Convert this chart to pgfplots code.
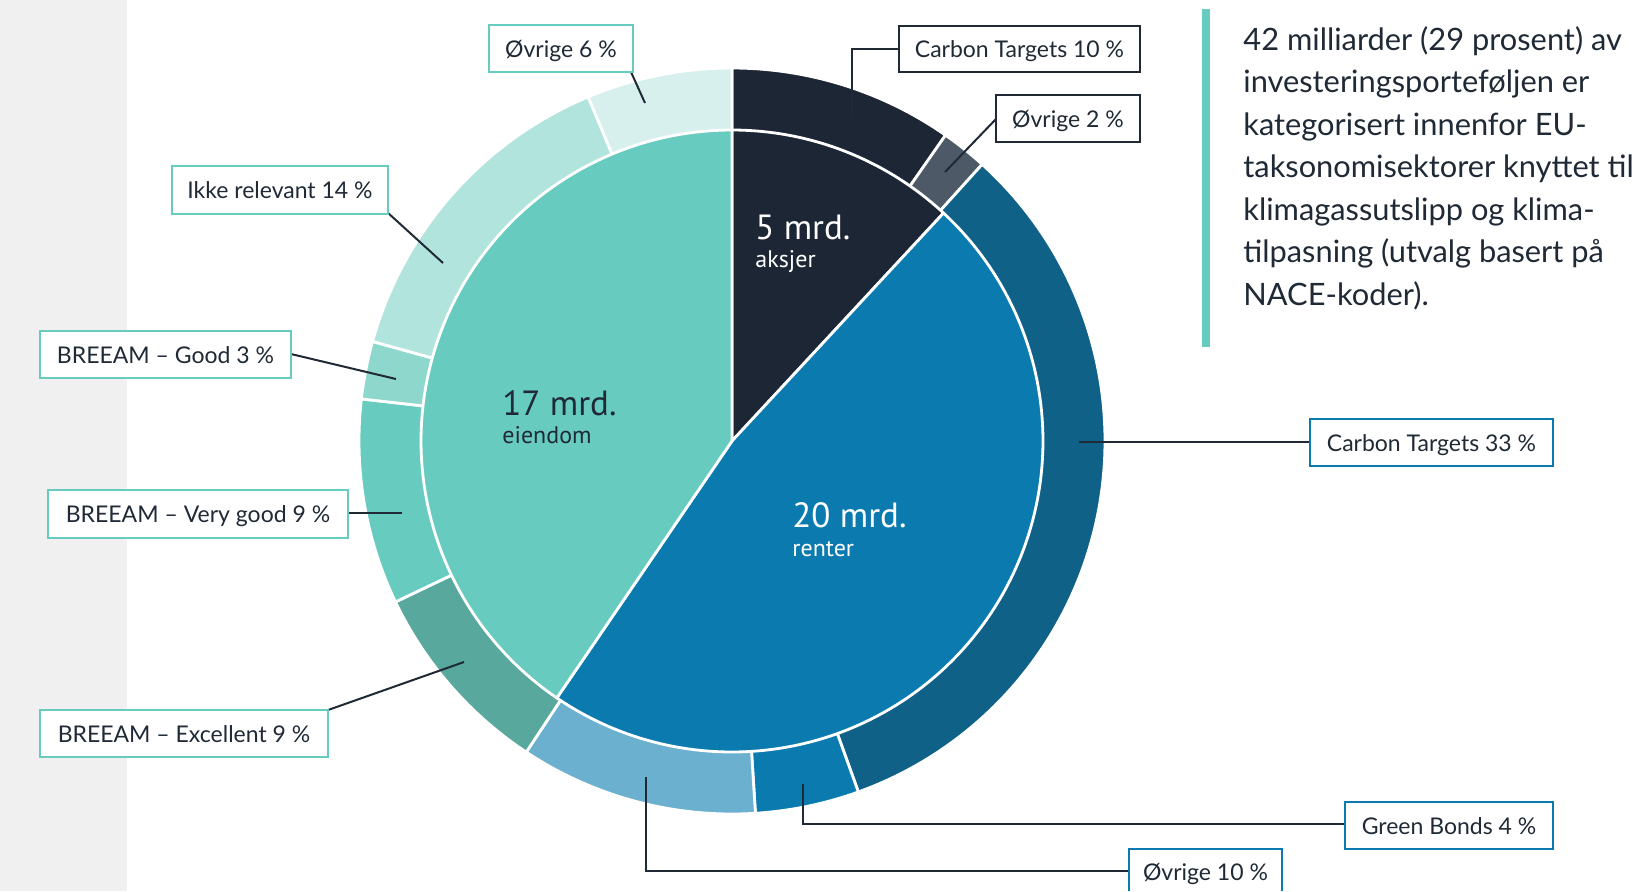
\documentclass[border=0pt]{standalone}
\usepackage{pgfplots}
\pgfplotsset{compat=1.18}
\usepackage{fontspec}
\setmainfont{Lato}
\newfontfamily\dinfont{PT Sans}
\definecolor{navy}{HTML}{1D2634}
\definecolor{slate}{HTML}{4D5966}
\definecolor{blueA}{HTML}{0B7BAF}
\definecolor{blueD}{HTML}{106188}
\definecolor{blueL}{HTML}{6CB0D0}
\definecolor{tealA}{HTML}{67CBBF}
\definecolor{tealD}{HTML}{58A89E}
\definecolor{tealM}{HTML}{8DD7CD}
\definecolor{tealL}{HTML}{B2E4DE}
\definecolor{tealXL}{HTML}{D8F0ED}
\definecolor{ink}{HTML}{1F2A36}
\definecolor{greyband}{HTML}{F0F0F0}
% #1 radius, #2 total, #3 cumulative start, #4 value, #5 colour
\newcommand{\seg}[5]{%
  \addplot[fill=#5, draw=white, line width=1.4pt, line join=round,
    domain=90-360/#2*(#3+#4):90-360/#2*(#3), samples=120]
    ({732+#1*cos(x)},{441-#1*sin(x)}) -- (axis cs:732,441) -- cycle;}
\newcommand{\lbox}[5]{%
  \draw[#5, line width=1.1pt, fill=white] (axis cs:#1,#2) rectangle (axis cs:#3,#4);}
\tikzset{lab/.style={font=\fontsize{11.5}{13}\selectfont, text=ink, inner sep=0, anchor=base}}
\begin{document}
\begin{tikzpicture}
\begin{axis}[name=ax,
  width=825pt, height=445.5pt, scale only axis,
  xmin=0, xmax=1650, ymin=0, ymax=891, y dir=reverse,
  hide axis, clip=false,
]
% background and grey band
\addplot[fill=white, draw=none] coordinates {(0,0) (1650,0) (1650,891) (0,891)} -- cycle;
\addplot[fill=greyband, draw=none] coordinates {(0,0) (127,0) (127,891) (0,891)} -- cycle;
% outer ring (percent of total): radius, total, cumulative start, value, colour
\seg{373}{100}{0}{9.7}{navy}       % Carbon Targets 10 %
\seg{373}{100}{9.7}{2.0}{slate}    % Øvrige 2 %
\seg{373}{100}{11.7}{32.8}{blueD}  % Carbon Targets 33 %
\seg{373}{100}{44.5}{4.5}{blueA}   % Green Bonds 4 %
\seg{373}{100}{49.0}{10.3}{blueL}  % Øvrige 10 %
\seg{373}{100}{59.3}{8.6}{tealD}   % BREEAM Excellent 9 %
\seg{373}{100}{67.9}{8.9}{tealA}   % BREEAM Very good 9 %
\seg{373}{100}{76.8}{2.5}{tealM}   % BREEAM Good 3 %
\seg{373}{100}{79.3}{14.4}{tealL}  % Ikke relevant 14 %
\seg{373}{100}{93.7}{6.3}{tealXL}  % Øvrige 6 %
% inner pie (mrd.)
\seg{311}{42}{0}{5}{navy}
\seg{311}{42}{5}{20}{blueA}
\seg{311}{42}{25}{17}{tealA}
% centre labels
\node[anchor=base west, inner sep=0, text=white, font=\dinfont\fontsize{17.5}{20}\selectfont] at (axis cs:755,239) {5 mrd.};
\node[anchor=base west, inner sep=0, text=white, font=\dinfont\fontsize{12}{14}\selectfont] at (axis cs:755,267) {aksjer};
\node[anchor=base west, inner sep=0, text=ink, font=\dinfont\fontsize{17.5}{20}\selectfont] at (axis cs:502,415) {17 mrd.};
\node[anchor=base west, inner sep=0, text=ink, font=\dinfont\fontsize{12}{14}\selectfont] at (axis cs:502,443) {eiendom};
\node[anchor=base west, inner sep=0, text=white, font=\dinfont\fontsize{17.5}{20}\selectfont] at (axis cs:792,527) {20 mrd.};
\node[anchor=base west, inner sep=0, text=white, font=\dinfont\fontsize{12}{14}\selectfont] at (axis cs:792,556) {renter};
% leader lines
\draw[ink, line width=1pt] (axis cs:899,49) -- (axis cs:852,49) -- (axis cs:852,115);
\draw[ink, line width=1pt] (axis cs:996,119) -- (axis cs:945,172);
\draw[ink, line width=1pt] (axis cs:631,72) -- (axis cs:645,103);
\draw[ink, line width=1pt] (axis cs:387,212) -- (axis cs:443,263);
\draw[ink, line width=1pt] (axis cs:291,354) -- (axis cs:396,379);
\draw[ink, line width=1pt] (axis cs:348,513) -- (axis cs:402,513);
\draw[ink, line width=1pt] (axis cs:328,710) -- (axis cs:464,662);
\draw[ink, line width=1pt] (axis cs:1310,442) -- (axis cs:1079,442);
\draw[ink, line width=1pt] (axis cs:1345,824) -- (axis cs:803,824) -- (axis cs:803,784);
\draw[ink, line width=1pt] (axis cs:1129,871) -- (axis cs:646,871) -- (axis cs:646,777);
% boxes
\lbox{899}{26}{1140}{72}{ink}
\node[lab] at (axis cs:1019.5,57.5) {Carbon Targets 10 \%};
\lbox{996}{95}{1140}{142}{ink}
\node[lab] at (axis cs:1068,127) {Øvrige 2 \%};
\lbox{489}{25}{633}{72}{tealA}
\node[lab] at (axis cs:561,57) {Øvrige 6 \%};
\lbox{172}{166}{388}{214}{tealA}
\node[lab] at (axis cs:280,198.5) {Ikke relevant 14 \%};
\lbox{40}{331}{291}{378}{tealA}
\node[lab] at (axis cs:165.5,363) {BREEAM – Good 3 \%};
\lbox{48}{490}{348}{538}{tealA}
\node[lab] at (axis cs:198,522.5) {BREEAM – Very good 9 \%};
\lbox{40}{710}{328}{757}{tealA}
\node[lab] at (axis cs:184,742) {BREEAM – Excellent 9 \%};
\lbox{1310}{419}{1553}{466}{blueA}
\node[lab] at (axis cs:1431.5,451) {Carbon Targets 33 \%};
\lbox{1345}{802}{1553}{849}{blueA}
\node[lab] at (axis cs:1449,834) {Green Bonds 4 \%};
\fill[white] (axis cs:1129,849) rectangle (axis cs:1282,891);
\draw[blueA, line width=1.1pt] (axis cs:1129,891) -- (axis cs:1129,849) -- (axis cs:1282,849) -- (axis cs:1282,891);
\node[lab] at (axis cs:1205.5,880) {Øvrige 10 \%};
% right text
\addplot[fill=tealA, draw=none] coordinates {(1202,9) (1210,9) (1210,347) (1202,347)} -- cycle;
\begin{scope}[every node/.style={anchor=base west, inner sep=0, text=ink, font=\fontsize{15.4}{18}\selectfont}]
\node at (axis cs:1243,50) {42 milliarder (29 prosent) av};
\node at (axis cs:1243,92.5) {investeringsporteføljen er};
\node at (axis cs:1243,135) {kategorisert innenfor EU-};
\node at (axis cs:1243,177.5) {taksonomisektorer knyttet til};
\node at (axis cs:1243,220) {klimagassutslipp og klima-};
\node at (axis cs:1243,262.5) {tilpasning (utvalg basert på};
\node at (axis cs:1243,305) {NACE-koder).};
\end{scope}
\end{axis}
\pgfresetboundingbox
\path (ax.south west) rectangle (ax.north east);
\end{tikzpicture}
\end{document}
